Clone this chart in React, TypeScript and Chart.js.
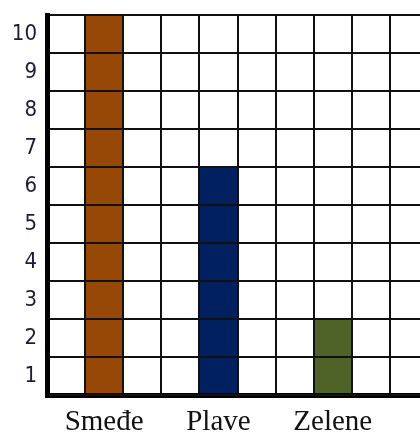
import { useEffect, useRef } from 'react';
import Chart from 'chart.js/auto';

// colour categories and how many of each
const categories = ['Smeđe', 'Plave', 'Zelene'];
const counts = [10, 6, 2];
const barColors = ['#974806', '#002060', '#4f6228'];
// the grid has 10 columns, each category sits in every third one starting at column 2
const slotCount = 10;
const slotOf = [1, 4, 7];
const yTickLabels = ['1', '2', '3', '4', '5', '6', '7', '8', '9', '10'];

const slotLabels = Array.from({ length: slotCount }, () => '');
const slotValues: (number | null)[] = Array.from({ length: slotCount }, () => null);
const slotColors = Array.from({ length: slotCount }, () => 'transparent');
categories.forEach((c, i) => {
    slotLabels[slotOf[i]] = c;
    slotValues[slotOf[i]] = counts[i];
    slotColors[slotOf[i]] = barColors[i];
});

export default function App() {
    const canvasRef = useRef<HTMLCanvasElement | null>(null);
    const chartRef = useRef<Chart | null>(null);

    useEffect(() => {
        if (!canvasRef.current) return;
        chartRef.current?.destroy();
        chartRef.current = new Chart(canvasRef.current, {
            type: 'bar',
            data: {
                labels: slotLabels,
                datasets: [
                    {
                        data: slotValues,
                        backgroundColor: slotColors,
                        borderWidth: 0,
                        barPercentage: 1,
                        categoryPercentage: 1,
                    },
                ],
            },
            options: {
                responsive: true,
                maintainAspectRatio: false,
                animation: false,
                layout: { padding: { top: 15, left: 0, right: 12, bottom: 0 } },
                plugins: { legend: { display: false }, tooltip: { enabled: false } },
                scales: {
                    x: {
                        grid: { color: '#111', lineWidth: 2, drawTicks: false, offset: true, z: 1 },
                        border: { color: '#000', width: 5, z: 1 },
                        ticks: {
                            color: '#111',
                            padding: 10,
                            autoSkip: false,
                            maxRotation: 0,
                            font: { family: '"Liberation Serif", serif', size: 29 },
                        },
                        afterFit: (s) => {
                            s.height = 42;
                            s.paddingLeft = 0;
                            s.paddingRight = 0;
                        },
                    },
                    y: {
                        min: 0,
                        max: 10,
                        grid: { color: '#111', lineWidth: 2, drawTicks: false, z: 1 },
                        border: { color: '#000', width: 5, z: 1 },
                        ticks: {
                            stepSize: 1,
                            padding: 10,
                            labelOffset: 19,
                            color: '#1c1c3a',
                            font: { family: '"DejaVu Sans Condensed", "DejaVu Sans", sans-serif', size: 22 },
                            callback: (v) => (Number(v) === 0 ? '' : yTickLabels[Number(v) - 1]),
                        },
                        afterFit: (s) => {
                            s.width = 47;
                            s.paddingTop = 0;
                            s.paddingBottom = 0;
                        },
                    },
                },
            },
        });
        return () => chartRef.current?.destroy();
    }, []);

    return (
        <div style={{ position: 'fixed', left: 0, top: 0, width: 420, height: 437, overflow: 'hidden', background: '#fff' }}>
            <div style={{ position: 'relative', width: 440, height: 437 }}>
                <canvas ref={canvasRef} />
            </div>
        </div>
    );
}
